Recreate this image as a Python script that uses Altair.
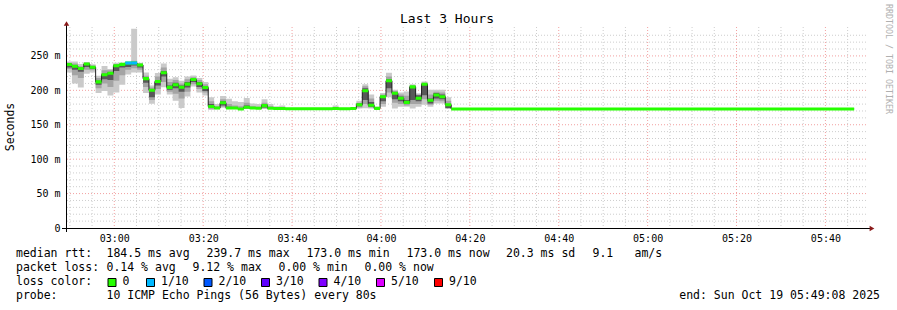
import altair as alt
import pandas as pd

MONO = "DejaVu Sans Mono"

# ---------------- data (values in milliseconds) ----------------
STEP_S = 80
START = "2025-10-19 02:49:08"
TAIL_END_STEP = 133          # last consolidated step ends here (step index)

# median rtt per 80 s step (last entry = flat tail until TAIL_END_STEP)
med = [237.4, 235.0, 231.7, 238.2, 233.5, 212.3, 222.6, 224.8, 235.6, 237.7,
       239.7, 239.7, 236.7, 217.0, 200.0, 212.7, 225.5, 204.3, 208.0, 204.5,
       209.0, 215.6, 209.5, 204.0, 176.6, 174.3, 181.9, 174.3, 174.2, 173.0,
       175.5, 174.2, 174.0, 177.8, 174.0, 173.5, 173.5, 173.4, 173.4, 173.4,
       173.4, 173.4, 173.4, 173.4, 173.4, 173.5, 173.4, 173.4, 173.6, 179.0,
       199.5, 178.2, 173.8, 190.8, 214.0, 195.6, 188.4, 182.5, 205.0, 188.4,
       208.7, 185.5, 193.2, 190.8, 178.9, 173.0]
# smoke: outer (min..max), middle and inner ping ranges
smin = [226, 210, 204, 224, 226, 196, 199, 192.5, 197, 208,
        223, 226, 226, 196, 180.5, 194, 204.6, 194, 185, 174.5,
        191, 205.6, 197, 192.5, 171.5, 172.5, 174.6, 173.2, 173.0, 172.0,
        173.0, 173.0, 173.0, 173.0, 173.0, 173.0, 173.0, 173.2, 173.2, 173.2,
        173.2, 173.2, 173.2, 173.2, 173.2, 173.0, 173.2, 173.2, 173.2, 173.5,
        174.0, 173.5, 173.0, 176.0, 189.8, 173.7, 176.0, 176.0, 173.7, 176.0,
        179.0, 176.0, 181.0, 181.0, 173.7, 173.0]
smax = [242, 242, 238.4, 241, 238, 221, 235.5, 231, 240, 240,
        240.5, 289.6, 240, 226, 207, 225, 239, 216.7, 219, 214,
        220, 221.5, 218, 212, 190, 180, 191.6, 187.7, 184, 183,
        189, 181, 180, 187, 180, 177, 178, 173.8, 173.8, 173.8,
        173.8, 173.8, 173.8, 173.8, 173.8, 178, 173.8, 173.8, 174.5, 185,
        209, 194, 176, 196, 225.6, 201, 197, 198.3, 208.7, 195.7,
        213, 201, 201, 201, 189.8, 173.0]
mlo = [231, 222, 218, 230, 229, 203, 210, 205, 214, 222,
       230, 232, 230, 205, 186, 202, 212, 198, 195, 188,
       198, 209, 202, 197, 173, 173, 176, 173.5, 173.3, 172.5,
       173.5, 173.3, 173.3, 174, 173.3, 173.2, 173.2, 173.3, 173.3, 173.3,
       173.3, 173.3, 173.3, 173.3, 173.3, 173.2, 173.3, 173.3, 173.4, 175,
       180, 175, 173.2, 180, 197, 182, 180, 178, 180, 180,
       187, 179, 185, 184, 175, 173.0]
mhi = [240, 239, 235, 240, 236, 218, 229, 229, 238, 239,
       240, 243, 239, 221, 204, 220, 233, 212, 215, 210,
       216, 219, 215, 209, 184, 177, 187, 180, 178, 177,
       182, 177, 176, 182, 177, 175, 175, 173.6, 173.6, 173.6,
       173.6, 173.6, 173.6, 173.6, 173.6, 175, 173.6, 173.6, 174, 182,
       206, 188, 175, 194, 220, 199, 194, 192, 207, 194,
       211, 194, 198, 197, 185, 173.0]
dlo = [233, 230, 227, 234, 231, 208, 216, 215, 228, 233,
       234, 236, 233, 211, 190, 207, 220, 201, 203, 198,
       204, 212, 205, 199, 175, 173.5, 178, 173.8, 173.6, 172.7,
       174, 173.6, 173.5, 175, 173.5, 173.3, 173.3, 173.3, 173.3, 173.3,
       173.3, 173.3, 173.3, 173.3, 173.3, 173.3, 173.3, 173.3, 173.5, 177,
       186, 176, 173.4, 184, 203, 187, 184, 180, 186, 184,
       193, 181, 188, 187, 174, 173.0]
dhi = [238, 236, 233, 239, 234, 214, 224, 226, 237, 238,
       240, 240, 237, 218, 201, 214, 228, 207, 211, 207,
       212, 217, 212, 206, 180, 175.5, 184, 176, 175.5, 174.5,
       178, 175.5, 175, 180, 175, 174, 174, 173.5, 173.5, 173.5,
       173.5, 173.5, 173.5, 173.5, 173.5, 174, 173.5, 173.5, 173.8, 181,
       203, 183, 174.5, 192, 216, 197, 191, 186, 206, 193,
       210, 188, 196, 194, 180, 173.0]
# number of lost pings (out of 10) per step
loss = [0, 0, 0, 0, 0, 0, 0, 0, 0, 0,
        1, 1, 0, 0, 0, 0, 0, 0, 0, 0,
        0, 0, 0, 0, 0, 0, 0, 0, 0, 0,
        0, 0, 0, 0, 0, 0, 0, 0, 0, 0,
        0, 0, 0, 0, 0, 0, 0, 0, 0, 0,
        0, 0, 0, 0, 0, 0, 0, 0, 0, 0,
        0, 0, 0, 0, 0, 0]

loss_labels = ["0", "1/10", "2/10", "3/10", "4/10", "5/10", "9/10"]
loss_colors = ["#26ff00", "#00b8ff", "#0059ff", "#5e00ff", "#7e00ff", "#dd00ff", "#ff0000"]

legend_rtt = ["184.5 ms avg", "239.7 ms max", "173.0 ms min", "173.0 ms now", "20.3 ms sd", "9.1", "am/s"]
legend_loss = ["0.14 % avg", "9.12 % max", "0.00 % min", "0.00 % now"]
probe_text = "10 ICMP Echo Pings (56 Bytes) every 80s"
end_text = "end: Sun Oct 19 05:49:08 2025"

# tick / grid positions
x_label_hm = [(3, 0), (3, 20), (3, 40), (4, 0), (4, 20), (4, 40), (5, 0), (5, 20), (5, 40)]
y_label_vals = [0, 50, 100, 150, 200, 250]
grid_x = pd.date_range("2025-10-19 02:50", "2025-10-19 05:45", freq="5min")
grid_x_major = [t for t in grid_x if t.minute % 20 == 0]
grid_x_minor = [t for t in grid_x if t.minute % 20 != 0]
grid_y_major = [50, 100, 150, 200, 250]
grid_y_minor = [v for v in range(10, 290, 10) if v % 50 != 0]

# ---------------- table ----------------
t0 = pd.Timestamp(START)
n = len(med)
step_idx = list(range(n)) + [TAIL_END_STEP]
times = [t0 + pd.Timedelta(seconds=STEP_S * i) for i in step_idx]
rows = []
for k in range(n + 1):
    j = min(k, n - 1)   # closing row repeats the last step's values
    t_next = times[k + 1] if k + 1 < len(times) else times[k]
    rows.append(dict(
        t=times[k].strftime("%Y-%m-%dT%H:%M:%S"),
        t2=t_next.strftime("%Y-%m-%dT%H:%M:%S"),
        med=med[j], smin=smin[j], smax=smax[j], mlo=mlo[j], mhi=mhi[j],
        dlo=dlo[j], dhi=dhi[j], loss=loss[j] if k < n else 0,
    ))
df = pd.DataFrame(rows)


def fmt(ts):
    return ts.strftime("%Y-%m-%dT%H:%M:%S")


# ---------------- scales / axes ----------------
def dt(h, m, s=0):
    return alt.DateTime(year=2025, month=10, date=19, hours=h, minutes=m, seconds=s)


xscale = alt.Scale(domain=[dt(2, 49, 8), dt(5, 49, 8)])
yscale = alt.Scale(domain=[0, 292], nice=False, zero=True)

GRID_MINOR = "#cdcdcd"
GRID_MAJOR = "#f2a0a0"

xaxis = alt.Axis(
    title=None, values=[dt(h, m) for h, m in x_label_hm], format="%H:%M",
    grid=False, ticks=False, domain=False, labelFont=MONO, labelFontSize=10,
    labelColor="#000000", labelPadding=5, labelOverlap=False, labelFlush=False)
yaxis = alt.Axis(
    title=None, values=y_label_vals,
    labelExpr="datum.value == 0 ? '0' : datum.value + ' m'",
    grid=False, ticks=False, domain=False, labelFont=MONO, labelFontSize=10,
    labelColor="#000000", labelPadding=6, labelOverlap=False)

# the same axis objects in every layer, so the shared axes merge without conflict
X = alt.X("t:T", scale=xscale, axis=xaxis)


def Y(field):
    return alt.Y(f"{field}:Q", scale=yscale, axis=yaxis)


def vgrid(ts_list, color):
    d = pd.DataFrame({"t": [fmt(t) for t in ts_list]})
    return alt.Chart(d).mark_rule(color=color, strokeDash=[1, 2], strokeWidth=1).encode(x=X)


def hgrid(vals, color):
    d = pd.DataFrame({"v": vals})
    return alt.Chart(d).mark_rule(color=color, strokeDash=[1, 2], strokeWidth=1).encode(y=Y("v"))


grids = [vgrid(grid_x_minor, GRID_MINOR), hgrid(grid_y_minor, GRID_MINOR),
         vgrid(grid_x_major, GRID_MAJOR), hgrid(grid_y_major, GRID_MAJOR)]

base = alt.Chart(df)


def band(lo, hi, color):
    return base.mark_area(interpolate="step-after", color=color, opacity=1).encode(
        x=X, y=Y(lo), y2=f"{hi}:Q")


smoke_outer = band("smin", "smax", "#cacaca")
smoke_mid = band("mlo", "mhi", "#a4a4a4")
smoke_dark = band("dlo", "dhi", "#585858")

median_line = base.mark_line(interpolate="step-after", color="#202020", strokeWidth=1).encode(
    x=X, y=Y("med"))

SW = 2.2
green = base.transform_calculate(lo=f"datum.med - {SW}", hi=f"datum.med + {SW}").mark_area(
    interpolate="step-after", color=loss_colors[0], opacity=1).encode(
    x=X, y=Y("lo"), y2="hi:Q")

loss_rects = base.transform_filter("datum.loss > 0").transform_calculate(
    lo=f"datum.med - {SW}", hi=f"datum.med + {SW}").mark_rect(color=loss_colors[1]).encode(
    x=X, x2="t2:T", y=Y("lo"), y2="hi:Q")

# ---------------- decorations (pixel layout) ----------------
OX, OY = 66, 27   # plot origin in the page
one = alt.Data(values=[{}])


def txt(s, x, y, size=11.5, align="left", angle=0, color="#000000", baseline="alphabetic"):
    return alt.Chart(one).mark_text(
        text=s, font=MONO, fontSize=size, align=align, baseline=baseline,
        angle=angle, color=color).encode(x=alt.value(x - OX), y=alt.value(y - OY))


deco = []
deco.append(alt.Chart(one).mark_rule(color="#000000", strokeWidth=1).encode(
    x=alt.value(-4), x2=alt.value(804), y=alt.value(201.5)))
deco.append(alt.Chart(one).mark_rule(color="#000000", strokeWidth=1).encode(
    x=alt.value(0.5), y=alt.value(205), y2=alt.value(-3)))
deco.append(alt.Chart(one).mark_point(shape="triangle-up", filled=True, size=30,
                                      color="#8b1a1a", opacity=1).encode(
    x=alt.value(0.5), y=alt.value(-3.5)))
deco.append(alt.Chart(one).mark_point(shape="triangle-right", filled=True, size=30,
                                      color="#8b1a1a", opacity=1).encode(
    x=alt.value(806), y=alt.value(201.5)))

deco.append(txt("Last 3 Hours", 447, 23, size=13, align="center"))
deco.append(txt("Seconds", 11, 127, size=11.5, align="center", angle=270, baseline="middle"))
deco.append(txt("RRDTOOL / TOBI OETIKER", 888, 59, size=8.3, align="center", angle=90,
                color="#b0b0b0", baseline="middle"))

L1, L2, L3, L4 = 257, 271, 285, 299
deco.append(txt("median rtt:", 16, L1))
for s, x in zip(legend_rtt, [106.5, 206.5, 306.5, 406.5, 506, 592.5, 634.5]):
    deco.append(txt(s, x, L1))
deco.append(txt("packet loss:", 16, L2))
for s, x in zip(legend_loss, [106.5, 192.5, 278.5, 364.5]):
    deco.append(txt(s, x, L2))
deco.append(txt("loss color:", 16, L3))
for lab, col, x in zip(loss_labels, loss_colors, [108, 146.5, 204, 261.5, 319, 376.5, 434.5]):
    deco.append(alt.Chart(one).mark_rect(color=col, stroke="#000000", strokeWidth=1).encode(
        x=alt.value(x - OX), x2=alt.value(x - OX + 8),
        y=alt.value(278.5 - OY), y2=alt.value(286.5 - OY)))
    deco.append(txt(lab, x + 14.5, L3))
deco.append(txt("probe:", 16, L4))
deco.append(txt(probe_text, 106.5, L4))
deco.append(txt(end_text, 880, L4, align="right"))

chart = alt.layer(
    *grids, smoke_outer, smoke_mid, smoke_dark, median_line, green, loss_rects, *deco
).properties(
    width=800, height=201,
    padding={"left": OX, "top": OY, "right": 897 - OX - 800, "bottom": 310 - OY - 201},
    autosize=alt.AutoSizeParams(type="none"),
    background="#ffffff",
).configure_view(stroke=None)

chart.save("out.html", embed_options={"renderer": "svg", "actions": False})
